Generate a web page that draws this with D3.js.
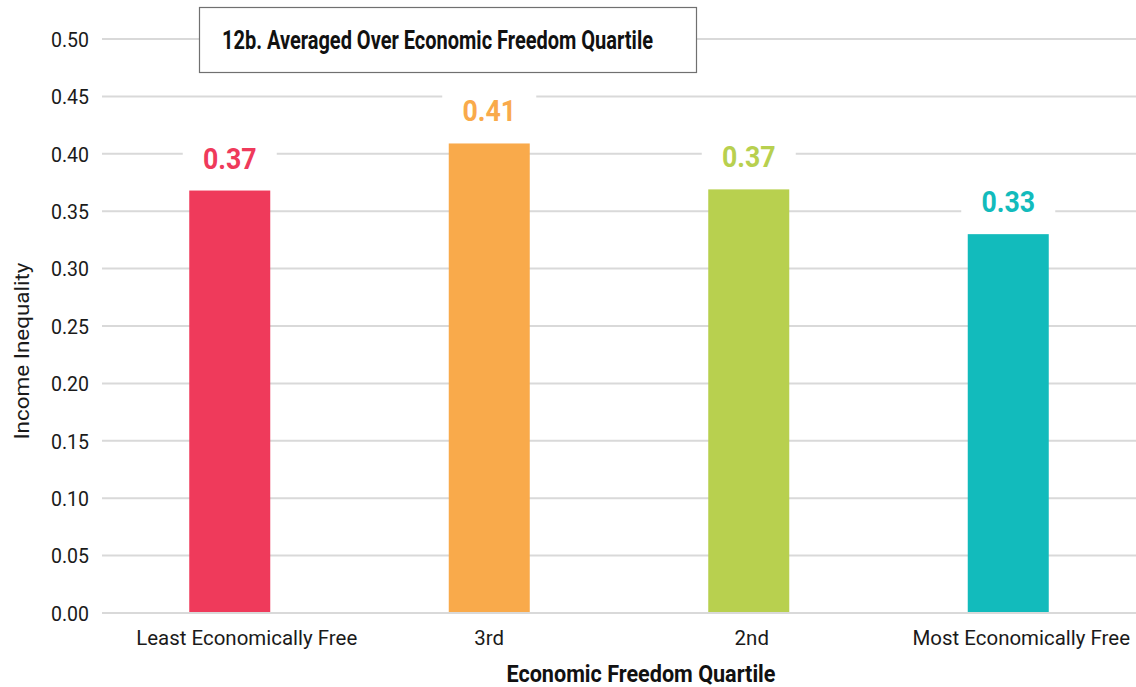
<!DOCTYPE html>
<html>
<head>
<meta charset="utf-8">
<script src="https://cdn.jsdelivr.net/npm/d3@7"></script>
<style>
  html, body { margin: 0; padding: 0; background: #fff; }
  svg { display: block; font-family: Roboto, "Noto Sans", sans-serif; }
</style>
</head>
<body>
<svg id="chart" width="1136" height="687"></svg>
<script>
const categories = ["Least Economically Free", "3rd", "2nd", "Most Economically Free"];
const values = [0.368, 0.409, 0.369, 0.330];
const valueLabels = ["0.37", "0.41", "0.37", "0.33"];
const barColors = ["#EF3A5B", "#F9AA4B", "#B8D04F", "#12BBBC"];
const yTicks = [0, 0.05, 0.10, 0.15, 0.20, 0.25, 0.30, 0.35, 0.40, 0.45, 0.50];
const chartTitle = "12b. Averaged Over Economic Freedom Quartile";
const xTitle = "Economic Freedom Quartile";
const yTitle = "Income Inequality";

const svg = d3.select("#chart");
const gridLeft = 102, gridRight = 1136;
const labelShift = [17, 0, 3, 13];

const x = d3.scaleBand().domain(categories).range([100, 1138]).paddingInner(0.688).paddingOuter(0.344);
const y = d3.scaleLinear().domain([0, 0.5]).range([613, 39]);

function fitWidth(sel, w) {
  sel.attr("textLength", w).attr("lengthAdjust", "spacingAndGlyphs");
}
function condense(sel, k) {
  sel.each(function() {
    const n = this.getComputedTextLength();
    d3.select(this).attr("textLength", n * k).attr("lengthAdjust", "spacingAndGlyphs");
  });
}

// gridlines
svg.append("g").selectAll("line").data(yTicks).join("line")
  .attr("x1", gridLeft).attr("x2", gridRight)
  .attr("y1", d => y(d)).attr("y2", d => y(d))
  .attr("stroke", "#d9d9d9").attr("stroke-width", 2);

// y tick labels
const yAxis = d3.axisLeft(y).tickValues(yTicks).tickFormat(d3.format(".2f")).tickSize(0).tickPadding(0);
const yg = svg.append("g").attr("transform", "translate(89,0)").call(yAxis);
yg.select(".domain").remove();
yg.selectAll("text").attr("font-size", 21).attr("fill", "#1a1a1a").attr("font-family", "Roboto").attr("dy", "0.35em");
condense(yg.selectAll("text"), 0.93);

// bars
const bw = 81;
svg.append("g").selectAll("rect").data(values).join("rect")
  .attr("x", (d, i) => x(categories[i]) + x.bandwidth() / 2 - bw / 2)
  .attr("width", bw)
  .attr("y", d => y(d))
  .attr("height", d => y(0) - y(d))
  .attr("fill", (d, i) => barColors[i]);

// baseline redraw over bars
svg.append("line").attr("x1", gridLeft).attr("x2", gridRight).attr("y1", y(0)).attr("y2", y(0))
  .attr("stroke", "#d9d9d9").attr("stroke-width", 2);

// value labels with white background
const lab = svg.append("g").selectAll("g").data(values).join("g")
  .attr("transform", (d, i) => `translate(${x(categories[i]) + x.bandwidth() / 2},${y(d) - 22})`);
lab.append("rect").attr("x", -47).attr("y", -31).attr("width", 94).attr("height", 37).attr("fill", "#fff");
const vt = lab.append("text").attr("text-anchor", "middle").attr("font-size", 29).attr("font-weight", 700)
  .attr("fill", (d, i) => barColors[i]).text((d, i) => valueLabels[i]);
condense(vt, 0.92);

// x tick labels
const xAxis = d3.axisBottom(x).tickSize(0).tickPadding(0);
const xg = svg.append("g").attr("transform", "translate(0,645)").call(xAxis);
xg.select(".domain").remove();
xg.selectAll("text").attr("font-size", 21).attr("fill", "#1a1a1a").attr("font-family", "Roboto")
  .attr("dy", 0).attr("y", 0).attr("x", (d, i) => labelShift[i]);
let kx = 1;
xg.selectAll("text").each(function(d) { if (d === categories[0]) kx = 221 / this.getComputedTextLength(); });
condense(xg.selectAll("text"), kx);

// x title
const xt = svg.append("text").attr("x", 641).attr("y", 682).attr("text-anchor", "middle")
  .attr("font-size", 24).attr("font-weight", 700).attr("fill", "#111").text(xTitle);
fitWidth(xt, 269);

// y title
const yt = svg.append("text").attr("transform", "translate(29,351) rotate(-90)").attr("text-anchor", "middle")
  .attr("font-size", 21).attr("fill", "#1a1a1a").text(yTitle);
fitWidth(yt, 177);

// title box
svg.append("rect").attr("x", 199.5).attr("y", 7.5).attr("width", 497).attr("height", 65)
  .attr("fill", "#fff").attr("stroke", "#707070").attr("stroke-width", 1.2);
const tt = svg.append("text").attr("x", 222).attr("y", 49).attr("font-size", 25).attr("font-weight", 700)
  .attr("fill", "#111").text(chartTitle);
fitWidth(tt, 431);
</script>
</body>
</html>
